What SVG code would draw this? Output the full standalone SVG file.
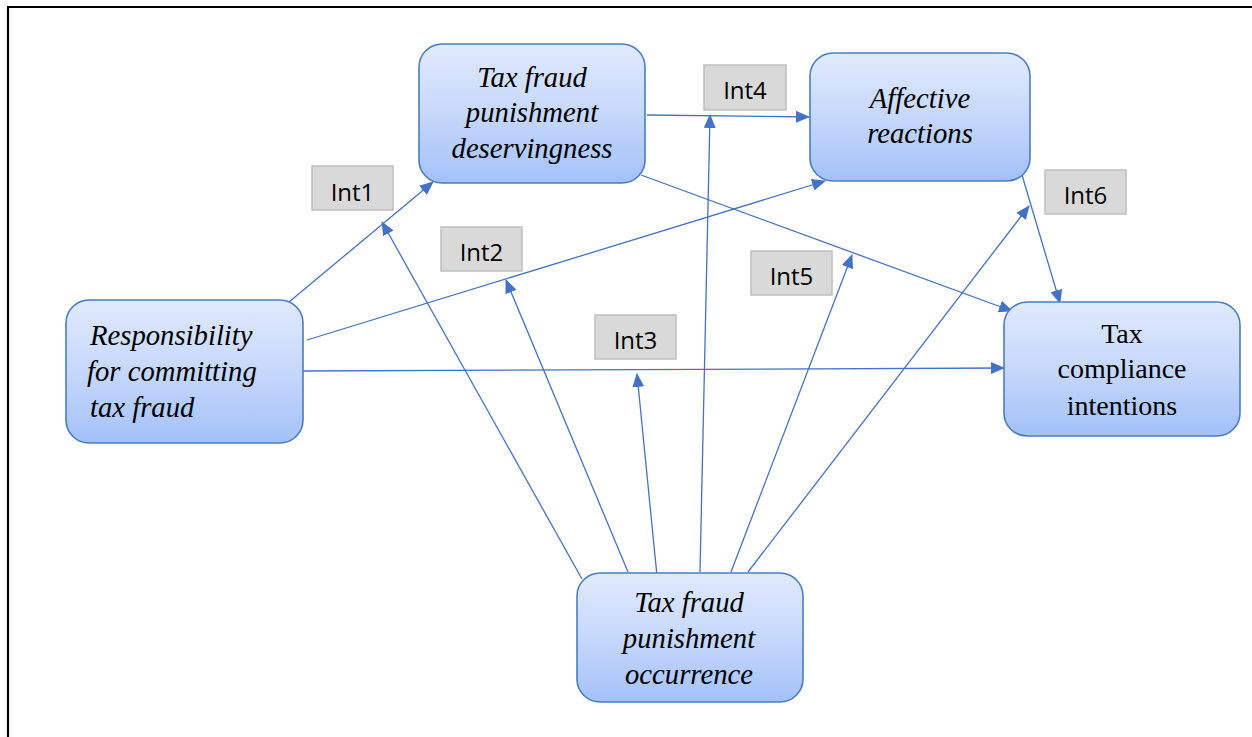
<svg xmlns="http://www.w3.org/2000/svg" width="1252" height="737" viewBox="0 0 1252 737">
  <defs>
    <linearGradient id="nodeFill" x1="0" y1="0" x2="0" y2="1">
      <stop offset="0" stop-color="#e0eafd"/>
      <stop offset="0.5" stop-color="#c6d8fb"/>
      <stop offset="1" stop-color="#a3c1f8"/>
    </linearGradient>
    <marker id="arrow" viewBox="0 0 14 12" refX="13" refY="6" markerWidth="14" markerHeight="12" markerUnits="userSpaceOnUse" orient="auto">
      <path d="M0,0 L14,6 L0,12 Z" fill="#4472c4"/>
    </marker>
    <style>
      .node { fill: url(#nodeFill); stroke: #4a7dc0; stroke-width: 1.6; }
      .lbl { font-family: "Liberation Serif", "Times New Roman", serif; font-size: 28.7px; font-style: italic; fill: #000; }
      .plain { font-style: normal; font-size: 28px; }
      .int rect { fill: #d9d9d9; stroke: #bfbfbf; stroke-width: 1.5; }
      .int text { font-family: "Open Sans", "Noto Sans", sans-serif; font-size: 24px; fill: #000; text-anchor: middle; }
      .edge { stroke: #4472c4; stroke-width: 1.3; fill: none; marker-end: url(#arrow); }
    </style>
  </defs>

  <rect width="1252" height="737" fill="#fff"/>
  <!-- outer frame -->
  <path d="M8,740 L8,7 L1256,7" fill="none" stroke="#000" stroke-width="2.2"/>

  <!-- connectors -->
  <g id="connectors">
    <line class="edge" x1="289" y1="302" x2="433" y2="182"/>
    <line class="edge" x1="307" y1="340" x2="825" y2="181"/>
    <line class="edge" x1="303" y1="371" x2="1004" y2="368"/>
    <line class="edge" x1="647" y1="115" x2="809" y2="117"/>
    <line class="edge" x1="641" y1="175" x2="1012" y2="311"/>
    <line class="edge" x1="1022" y1="175" x2="1060" y2="303"/>
    <line class="edge" x1="582" y1="579" x2="382" y2="222"/>
    <line class="edge" x1="628" y1="572" x2="506" y2="280"/>
    <line class="edge" x1="657" y1="576" x2="637" y2="374"/>
    <line class="edge" x1="700" y1="572" x2="710" y2="115"/>
    <line class="edge" x1="731" y1="572" x2="852" y2="255"/>
    <line class="edge" x1="748" y1="572" x2="1029" y2="206"/>
  </g>

  <!-- construct nodes -->
  <g id="deservingness">
    <rect class="node" x="419" y="44" width="226" height="139" rx="23"/>
    <text class="lbl" text-anchor="middle" x="532" y="87">Tax fraud</text>
    <text class="lbl" text-anchor="middle" x="532" y="122">punishment</text>
    <text class="lbl" text-anchor="middle" x="532" y="158">deservingness</text>
  </g>
  <g id="affective">
    <rect class="node" x="810" y="53" width="220" height="128" rx="23"/>
    <text class="lbl" text-anchor="middle" x="920" y="108">Affective</text>
    <text class="lbl" text-anchor="middle" x="920" y="143">reactions</text>
  </g>
  <g id="responsibility">
    <rect class="node" x="66" y="300" width="237" height="143" rx="23"/>
    <text class="lbl" x="90" y="345">Responsibility</text>
    <text class="lbl" x="87" y="381">for committing</text>
    <text class="lbl" x="90" y="417">tax fraud</text>
  </g>
  <g id="compliance">
    <rect class="node" x="1004" y="302" width="236" height="134" rx="23"/>
    <text class="lbl plain" text-anchor="middle" x="1122" y="343">Tax</text>
    <text class="lbl plain" text-anchor="middle" x="1122" y="378">compliance</text>
    <text class="lbl plain" text-anchor="middle" x="1122" y="415">intentions</text>
  </g>
  <g id="occurrence">
    <rect class="node" x="577" y="573" width="226" height="129" rx="23"/>
    <text class="lbl" text-anchor="middle" x="689" y="612">Tax fraud</text>
    <text class="lbl" text-anchor="middle" x="689" y="648">punishment</text>
    <text class="lbl" text-anchor="middle" x="689" y="684">occurrence</text>
  </g>

  <!-- interaction labels -->
  <g id="int1" class="int">
    <rect x="312" y="166" width="81" height="44"/>
    <text x="352.5" y="201">Int1</text>
  </g>
  <g id="int2" class="int">
    <rect x="441" y="227" width="81" height="44"/>
    <text x="481.5" y="261">Int2</text>
  </g>
  <g id="int3" class="int">
    <rect x="595" y="315" width="81" height="44"/>
    <text x="635.5" y="349">Int3</text>
  </g>
  <g id="int4" class="int">
    <rect x="704" y="65" width="82" height="45"/>
    <text x="745" y="99">Int4</text>
  </g>
  <g id="int5" class="int">
    <rect x="751" y="251" width="81" height="44"/>
    <text x="791.5" y="285">Int5</text>
  </g>
  <g id="int6" class="int">
    <rect x="1045" y="170" width="81" height="44"/>
    <text x="1085.5" y="204">Int6</text>
  </g>
</svg>
